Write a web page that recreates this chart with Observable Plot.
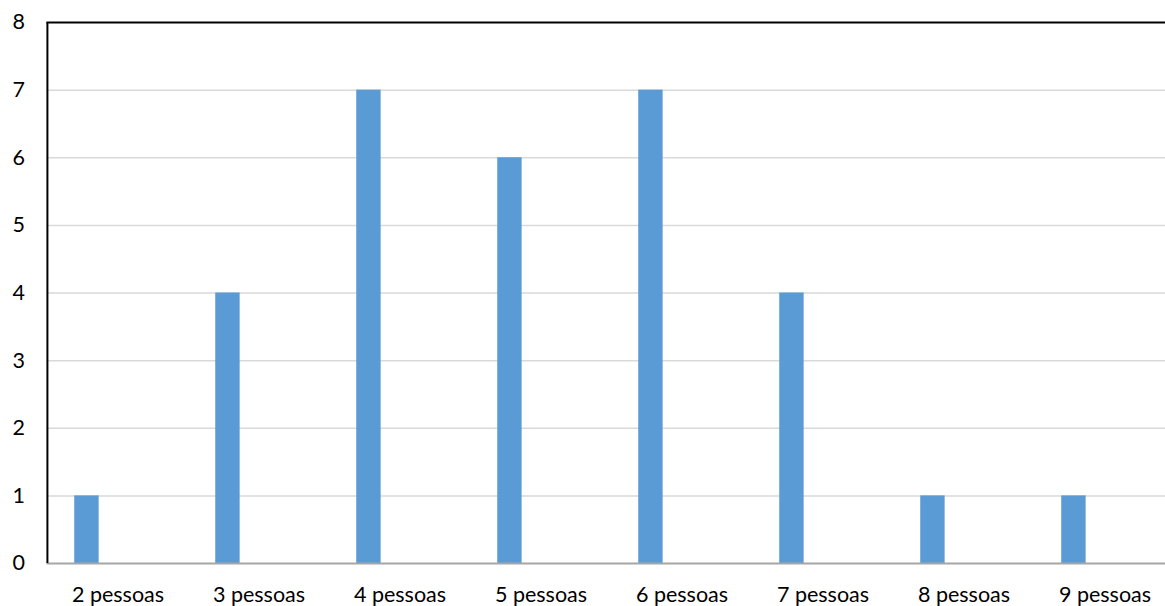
<!DOCTYPE html>
<html>
<head>
<meta charset="utf-8">
<script src="https://cdn.jsdelivr.net/npm/d3@7"></script>
<script src="https://cdn.jsdelivr.net/npm/@observablehq/plot@0.6"></script>
<style>
  html, body { margin: 0; padding: 0; background: #fff; overflow: hidden; }
  #chart { width: 1165px; height: 606px; overflow: hidden; }
</style>
</head>
<body>
<div id="chart"></div>
<script>
// Household size categories and number of responses
const categories = ["2 pessoas", "3 pessoas", "4 pessoas", "5 pessoas", "6 pessoas", "7 pessoas", "8 pessoas", "9 pessoas"];
const counts = [1, 4, 7, 6, 7, 4, 1, 1];
const yTicks = [0, 1, 2, 3, 4, 5, 6, 7, 8];
const gridTicks = [1, 2, 3, 4, 5, 6, 7];

const data = categories.map((c, i) => ({category: c, count: counts[i]}));

const width = 1165;
const height = 606;
const marginLeft = 46.5;
const marginRight = -11;   // the last category band runs past the right edge
const step = (width - marginRight - marginLeft) / categories.length;

const chart = Plot.plot({
  width,
  height,
  marginTop: 22,
  marginBottom: 43,
  marginLeft,
  marginRight,
  style: {fontFamily: "Lato, 'Open Sans', sans-serif", fontSize: "21.5px", color: "#000", background: "#fff", overflow: "visible"},
  x: {domain: categories, padding: 0, label: null, tickSize: 0, tickPadding: 23},
  y: {domain: [0, 8], ticks: yTicks, label: null, tickSize: 0, tickPadding: 22},
  marks: [
    Plot.ruleY(gridTicks, {stroke: "#d9d9d9", strokeWidth: 1.5}),
    Plot.barY(data, {
      x: "category",
      y: "count",
      fill: "#5b9bd5",
      insetLeft: step * 0.28 - 12.3,
      insetRight: step * 0.72 - 12.3
    }),
    Plot.ruleY([0], {stroke: "#a6a6a6", strokeWidth: 2}),
    Plot.ruleY([8], {stroke: "#000", strokeWidth: 2}),
    Plot.ruleX([categories[0]], {y1: 0, y2: 8, dx: -step / 2, stroke: "#000", strokeWidth: 2})
  ]
});

document.getElementById("chart").appendChild(chart);
</script>
</body>
</html>
